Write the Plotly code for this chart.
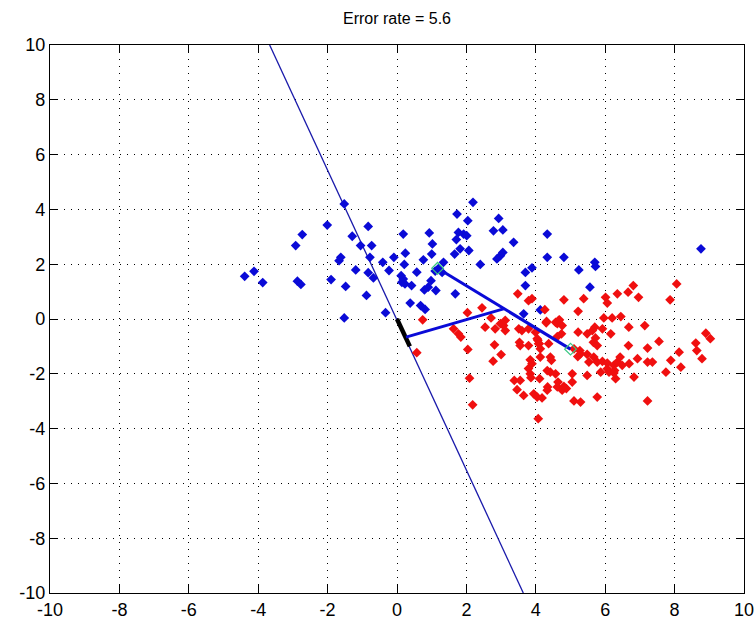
import plotly.graph_objects as go

# Class 1 samples (blue)
blue_x = [-1.52, -2.01, -2.73, -2.92, -1.29, -0.83, -1.05, -0.73, -0.78, -1.62, -1.67, -1.19, -0.83, -0.68,
          -4.39, -4.12, -3.87, -2.87, -2.77, -1.90, -1.48, -0.88, -1.52,
          2.19, 1.73, 2.04, 2.93, 2.78, 3.05, 0.18, 0.93, 1.77, 1.92, 2.01, 1.71, 1.02, 1.82, 2.07, 1.66,
          0.24, 1.00, 2.98, 2.88, -0.09, -0.41, 0.76, 0.21, 2.40, 1.34, -0.23, 0.57, 0.12, 0.18, 0.14, 0.23,
          0.98, 0.42, 0.90, 0.79, 1.12, 1.68, 0.38, 0.68, 0.81, -0.33,
          3.36, 3.05, 4.33, 4.33, 4.81, 5.70, 5.72, 5.24, 3.89, 3.70, 3.70, 5.56, 8.76, 3.65, 4.13,
          1.20, 1.10, 1.30]
blue_y = [4.20, 3.43, 3.08, 2.68, 3.02, 3.38, 2.68, 2.68, 2.25, 2.25, 2.13, 1.79, 1.69, 1.50,
          1.56, 1.74, 1.33, 1.38, 1.26, 1.44, 1.19, 0.86, 0.04,
          4.26, 3.83, 3.59, 3.67, 3.22, 3.25, 3.10, 3.14, 3.16, 3.10, 3.04, 2.90, 2.74, 2.56, 2.50, 2.37,
          2.40, 2.37, 2.31, 2.19, 2.25, 2.07, 2.16, 1.99, 1.99, 2.07, 1.77, 1.71, 1.58, 1.46, 1.34, 1.28,
          1.40, 1.22, 1.16, 1.06, 1.04, 0.92, 0.58, 0.49, 0.35, 0.23,
          2.80, 2.43, 3.10, 2.25, 2.25, 2.07, 1.92, 1.79, 1.87, 1.70, 1.22, 1.16, 2.56, 0.19, 0.33,
          1.85, 1.75, 1.70]

# Class 2 samples (red)
red_x = [6.81, 8.06, 6.66, 6.35, 6.96, 7.87, 6.01, 6.06, 5.38, 4.81, 3.79, 3.89, 3.48, 2.45, 2.03, 4.26,
         5.22, 5.96, 6.20, 6.45, 4.68, 4.62, 4.31, 5.70, 6.68, 7.14, 1.63, 1.77, 1.84, 2.54, 2.83, 3.07,
         3.12, 3.51, 3.60, 3.79, 3.99, 4.62, 4.74, 5.22, 5.48, 5.63, 5.72, 5.66, 5.77, 6.16, 6.67, 7.55,
         8.61, 8.90, 9.03, 2.81, 3.53, 3.55, 3.79, 4.10, 4.06, 4.37, 2.04, 3.00, 2.77, 3.84, 3.89, 3.79,
         4.13, 4.42, 4.45, 5.27, 5.21, 5.48, 5.53, 5.67, 5.77, 5.92, 6.06, 6.25, 6.35, 6.49, 6.43, 6.69,
         6.93, 7.22, 7.36, 7.89, 8.13, 8.64, 8.79, 8.18, 7.75, 6.83, 6.27, 6.30, 5.87, 5.48, 5.05, 5.05,
         4.42, 4.57, 4.64, 4.62, 4.34, 4.81, 4.76, 4.88, 3.84, 3.86, 4.11, 3.94, 4.04, 3.38, 3.55, 3.46,
         3.65, 4.18, 5.10, 5.29, 5.77, 7.22, 2.09, 2.18, 4.07, 6.06, 6.11, 6.25, 0.74, 2.71, 2.98, 3.12,
         4.04, 4.08, 4.13, 0.57, 4.33, 4.33, 4.30, 4.57, 4.66, 4.76, 5.92, 7.22, 5.10, 5.29]
red_y = [1.22, 1.28, 0.98, 0.92, 0.79, 0.70, 0.79, 0.58, 0.74, 0.70, 0.67, 0.74, 0.92, 0.41, 0.23, 0.34,
         0.28, 0.04, 0.04, 0.09, -0.03, -0.17, -0.09, -0.30, -0.30, -0.24, -0.36, -0.54, -0.66, -0.30, -0.36, -0.24,
         -0.42, -0.36, -0.42, -0.36, -0.48, -0.64, -0.54, -0.48, -0.54, -0.42, -0.69, -0.85, -0.97, -0.54, -0.97, -0.82,
         -0.88, -0.52, -0.72, -0.94, -0.85, -0.97, -0.97, -0.90, -0.78, -0.90, -1.11, -1.30, -1.54, -1.49, -1.63, -1.81,
         -1.39, -1.39, -1.51, -1.15, -1.37, -1.29, -1.57, -1.39, -1.57, -1.55, -1.61, -1.69, -1.57, -1.69, -1.39, -1.63,
         -1.45, -1.57, -1.57, -1.51, -1.21, -1.15, -1.45, -1.76, -1.94, -2.12, -1.88, -2.18, -1.94, -2.06, -2.00, -2.30,
         -1.94, -2.00, -2.30, -2.48, -2.48, -2.46, -2.60, -2.54, -2.00, -2.14, -2.18, -2.73, -2.85, -2.24, -2.24, -2.58,
         -2.79, -2.88, -2.99, -3.03, -2.85, -2.99, -2.16, -3.13, -3.64, -1.82, -1.94, -1.97, -0.03, 0.04, -0.17, -0.05,
         -0.72, -0.90, -1.09, -1.23, -1.88, -2.60, -0.14, -0.12, -0.05, -0.24, -0.36, -1.06, -1.09, -1.27]

# Class means
mean_x = [1.17, 5.00]
mean_y = [1.85, -1.10]

# Decision boundary
boundary_x = [-3.67, 3.64]
boundary_y = [10.0, -10.0]

# Vector from the midpoint of the means to the boundary
normal_x = [3.07, 0.26]
normal_y = [0.37, -0.66]

# Projection segment on the boundary
proj_x = [0.00, 0.37]
proj_y = [0.00, -1.00]

ticks = [-10, -8, -6, -4, -2, 0, 2, 4, 6, 8, 10]

fig = go.Figure()

fig.add_trace(go.Scatter(x=boundary_x, y=boundary_y, mode="lines",
                         line=dict(color="rgb(25,25,170)", width=1.3)))
fig.add_trace(go.Scatter(x=blue_x, y=blue_y, mode="markers",
                         marker=dict(symbol="diamond", size=7.5, color="rgb(10,10,215)")))
fig.add_trace(go.Scatter(x=red_x, y=red_y, mode="markers",
                         marker=dict(symbol="diamond", size=7.5, color="rgb(240,15,15)")))
fig.add_trace(go.Scatter(x=proj_x, y=proj_y, mode="lines",
                         line=dict(color="black", width=4.5)))
fig.add_trace(go.Scatter(x=mean_x, y=mean_y, mode="lines",
                         line=dict(color="rgb(10,10,215)", width=3)))
fig.add_trace(go.Scatter(x=normal_x, y=normal_y, mode="lines",
                         line=dict(color="rgb(10,10,215)", width=3)))
fig.add_trace(go.Scatter(x=mean_x, y=mean_y, mode="markers",
                         marker=dict(symbol="diamond-open", size=9, color="rgb(60,200,130)",
                                     line=dict(width=1.2))))

axis_common = dict(
    range=[-10, 10], tickvals=ticks, ticktext=[str(t) for t in ticks],
    showgrid=True, gridcolor="black", griddash="1px,6px", gridwidth=1,
    zeroline=False, showline=True, linecolor="black", linewidth=1.3,
    mirror="ticks", ticks="inside", ticklen=8, tickcolor="black", tickwidth=1.3,
    tickfont=dict(family="Liberation Sans, Arial, sans-serif", size=18, color="black"),
    fixedrange=True, automargin=False,
)

fig.update_layout(
    width=756, height=625,
    margin=dict(l=50, r=12, t=45, b=32),
    paper_bgcolor="white", plot_bgcolor="white",
    showlegend=False,
    title=dict(text="Error rate = 5.6", x=0.5, xref="paper", y=0.97, yanchor="middle",
               font=dict(family="Liberation Sans, Arial, sans-serif", size=16, color="black")),
    xaxis=axis_common,
    yaxis=axis_common,
)

fig.write_html("out.html")
